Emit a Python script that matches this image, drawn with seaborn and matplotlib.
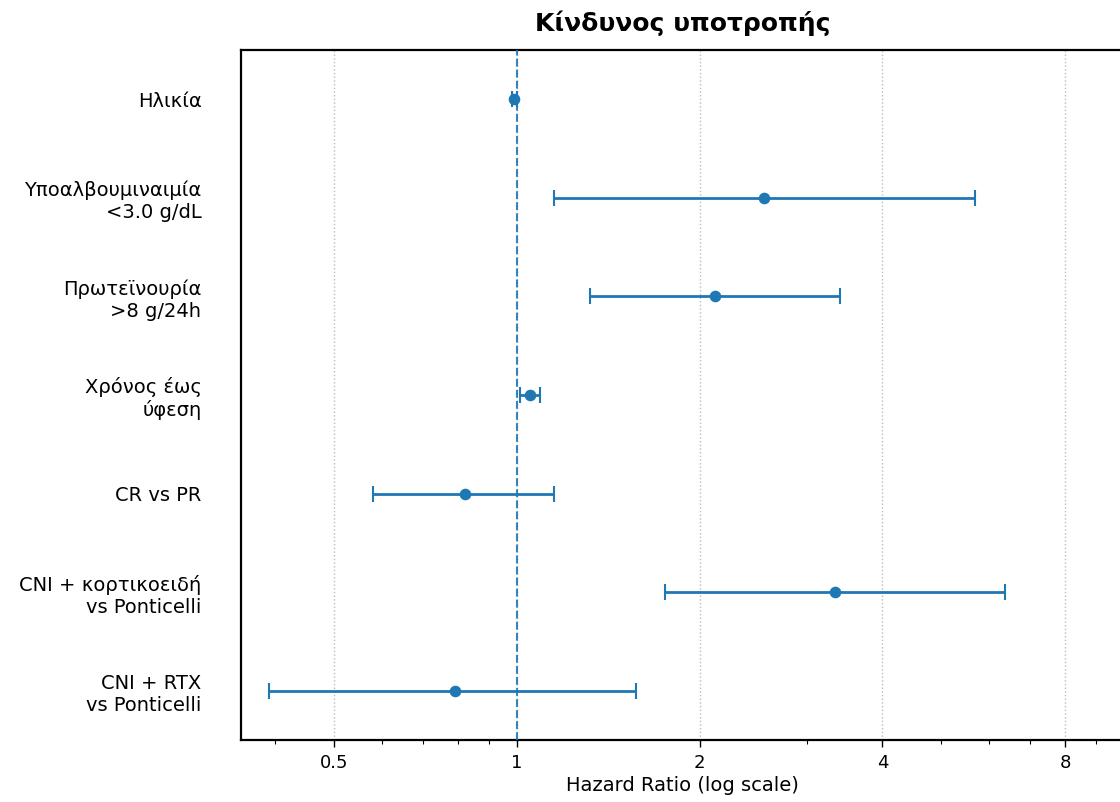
import matplotlib
matplotlib.use("Agg")
import matplotlib.pyplot as plt
from matplotlib.ticker import FixedLocator, FixedFormatter, NullFormatter
import seaborn as sns
import pandas as pd
import numpy as np

# Forest plot data (hazard ratios with 95% CI)
labels = [
    "Ηλικία",
    "Υποαλβουμιναιμία\n<3.0 g/dL",
    "Πρωτεϊνουρία\n>8 g/24h",
    "Χρόνος έως\nύφεση",
    "CR vs PR",
    "CNI + κορτικοειδή\nvs Ponticelli",
    "CNI + RTX\nvs Ponticelli",
]
hr = [0.99, 2.55, 2.12, 1.05, 0.82, 3.34, 0.79]
ci_low = [0.98, 1.15, 1.32, 1.01, 0.58, 1.75, 0.39]
ci_high = [1.00, 5.68, 3.40, 1.09, 1.15, 6.36, 1.57]
xticks = [0.5, 1, 2, 4, 8]
xtick_labels = ["0.5", "1", "2", "4", "8"]

sns.set_style("white")
plt.rcParams['font.family'] = ['DejaVu Sans']
plt.rcParams['text.color'] = 'black'
plt.rcParams['axes.labelcolor'] = 'black'
plt.rcParams['xtick.color'] = 'black'
plt.rcParams['ytick.color'] = 'black'

df = pd.DataFrame({"label": labels, "hr": hr, "lo": ci_low, "hi": ci_high})
df["y"] = np.arange(len(df))

fig = plt.figure(figsize=(11.2, 8.02), dpi=100)
ax = fig.add_axes([241 / 1120, 62 / 802, 883 / 1120, 690 / 802])

color = "#1f77b4"
ax.errorbar(df["hr"], df["y"],
            xerr=[df["hr"] - df["lo"], df["hi"] - df["hr"]],
            fmt="none", ecolor=color, elinewidth=2, capsize=6, capthick=1.5, zorder=2)
sns.scatterplot(data=df, x="hr", y="y", color=color, s=70, edgecolor=color,
                linewidth=0, ax=ax, zorder=3)
ax.axvline(1, color=color, linestyle="--", linewidth=1.5, alpha=0.9, zorder=4)

ax.set_xscale("log")
ax.set_xlim(0.351, 10.0)
ax.set_ylim(len(df) - 0.5, -0.5)
ax.xaxis.set_major_locator(FixedLocator(xticks))
ax.xaxis.set_major_formatter(FixedFormatter(xtick_labels))
ax.xaxis.set_minor_formatter(NullFormatter())
ax.set_yticks(df["y"])
ax.set_yticklabels(df["label"], fontsize=14)
ax.tick_params(axis="x", which="major", bottom=True, length=5, width=1, labelsize=13, pad=5)
ax.tick_params(axis="x", which="minor", bottom=True, length=3, width=0.8)
ax.tick_params(axis="y", left=False, pad=25)
ax.grid(True, axis="x", which="major", linestyle=":", color="#bbbbbb", linewidth=1)
ax.grid(False, axis="y")
for s in ax.spines.values():
    s.set_color("black")
    s.set_linewidth(1.6)

ax.set_xlabel("Hazard Ratio (log scale)", fontsize=14, labelpad=3)
ax.set_ylabel("")
ax.set_title("Κίνδυνος υποτροπής", fontsize=18, fontweight="bold", pad=14)

fig.savefig("out.png", dpi=100)
